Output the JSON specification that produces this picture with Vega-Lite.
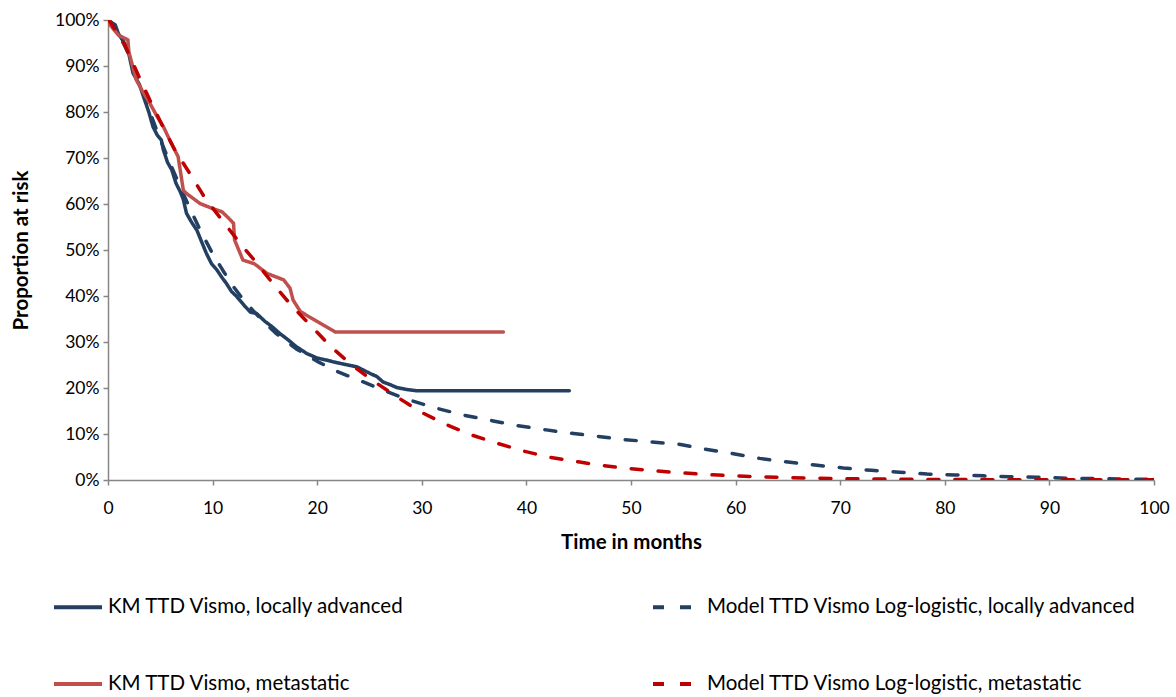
{
  "$schema": "https://vega.github.io/schema/vega-lite/v6.json",
  "autosize": "none",
  "width": 1046,
  "height": 460,
  "padding": {"left": 108, "top": 20, "right": 22, "bottom": 217},
  "background": "white",
  "config": {
    "view": {"stroke": null},
    "font": "Lato",
    "axis": {
      "grid": false,
      "domainColor": "#868686",
      "domainWidth": 1.5,
      "tickColor": "#868686",
      "tickWidth": 1.5,
      "tickSize": 5,
      "labelColor": "#000000",
      "labelFont": "Lato",
      "labelFontSize": 17.5,
      "titleFont": "Lato",
      "titleFontSize": 20.5,
      "titleFontWeight": "bold",
      "titleColor": "#000000"
    },
    "legend": {
      "labelFont": "Lato",
      "labelFontSize": 20.5,
      "labelColor": "#000000",
      "labelLimit": 0
    }
  },
  "data": {
    "values": [
      {"series": "KM TTD Vismo, locally advanced", "t": 0, "s": 1.0},
      {"series": "KM TTD Vismo, locally advanced", "t": 0.7, "s": 0.989},
      {"series": "KM TTD Vismo, locally advanced", "t": 1.0, "s": 0.97},
      {"series": "KM TTD Vismo, locally advanced", "t": 1.6, "s": 0.949},
      {"series": "KM TTD Vismo, locally advanced", "t": 2.0, "s": 0.925},
      {"series": "KM TTD Vismo, locally advanced", "t": 2.4, "s": 0.884},
      {"series": "KM TTD Vismo, locally advanced", "t": 3.0, "s": 0.86},
      {"series": "KM TTD Vismo, locally advanced", "t": 3.4, "s": 0.833},
      {"series": "KM TTD Vismo, locally advanced", "t": 3.9, "s": 0.8},
      {"series": "KM TTD Vismo, locally advanced", "t": 4.3, "s": 0.768},
      {"series": "KM TTD Vismo, locally advanced", "t": 4.7, "s": 0.75},
      {"series": "KM TTD Vismo, locally advanced", "t": 5.1, "s": 0.739},
      {"series": "KM TTD Vismo, locally advanced", "t": 5.3, "s": 0.717},
      {"series": "KM TTD Vismo, locally advanced", "t": 5.7, "s": 0.69},
      {"series": "KM TTD Vismo, locally advanced", "t": 6.1, "s": 0.674},
      {"series": "KM TTD Vismo, locally advanced", "t": 6.5, "s": 0.645},
      {"series": "KM TTD Vismo, locally advanced", "t": 6.9, "s": 0.627},
      {"series": "KM TTD Vismo, locally advanced", "t": 7.2, "s": 0.61},
      {"series": "KM TTD Vismo, locally advanced", "t": 7.5, "s": 0.58},
      {"series": "KM TTD Vismo, locally advanced", "t": 8.0, "s": 0.56},
      {"series": "KM TTD Vismo, locally advanced", "t": 8.5, "s": 0.543},
      {"series": "KM TTD Vismo, locally advanced", "t": 9.0, "s": 0.515},
      {"series": "KM TTD Vismo, locally advanced", "t": 9.4, "s": 0.493},
      {"series": "KM TTD Vismo, locally advanced", "t": 9.9, "s": 0.47},
      {"series": "KM TTD Vismo, locally advanced", "t": 10.4, "s": 0.457},
      {"series": "KM TTD Vismo, locally advanced", "t": 10.9, "s": 0.44},
      {"series": "KM TTD Vismo, locally advanced", "t": 11.3, "s": 0.428},
      {"series": "KM TTD Vismo, locally advanced", "t": 11.8, "s": 0.41},
      {"series": "KM TTD Vismo, locally advanced", "t": 12.3, "s": 0.399},
      {"series": "KM TTD Vismo, locally advanced", "t": 13.0, "s": 0.38},
      {"series": "KM TTD Vismo, locally advanced", "t": 13.6, "s": 0.365},
      {"series": "KM TTD Vismo, locally advanced", "t": 14.2, "s": 0.362},
      {"series": "KM TTD Vismo, locally advanced", "t": 15.0, "s": 0.345},
      {"series": "KM TTD Vismo, locally advanced", "t": 15.7, "s": 0.333},
      {"series": "KM TTD Vismo, locally advanced", "t": 16.4, "s": 0.319},
      {"series": "KM TTD Vismo, locally advanced", "t": 17.2, "s": 0.305},
      {"series": "KM TTD Vismo, locally advanced", "t": 18.0, "s": 0.29},
      {"series": "KM TTD Vismo, locally advanced", "t": 19.0, "s": 0.275},
      {"series": "KM TTD Vismo, locally advanced", "t": 20.0, "s": 0.265},
      {"series": "KM TTD Vismo, locally advanced", "t": 21.0, "s": 0.26},
      {"series": "KM TTD Vismo, locally advanced", "t": 21.5, "s": 0.257},
      {"series": "KM TTD Vismo, locally advanced", "t": 22.5, "s": 0.252},
      {"series": "KM TTD Vismo, locally advanced", "t": 23.8, "s": 0.246},
      {"series": "KM TTD Vismo, locally advanced", "t": 24.5, "s": 0.238},
      {"series": "KM TTD Vismo, locally advanced", "t": 25.2, "s": 0.23},
      {"series": "KM TTD Vismo, locally advanced", "t": 25.7, "s": 0.225},
      {"series": "KM TTD Vismo, locally advanced", "t": 26.3, "s": 0.213},
      {"series": "KM TTD Vismo, locally advanced", "t": 27.0, "s": 0.207},
      {"series": "KM TTD Vismo, locally advanced", "t": 27.6, "s": 0.201},
      {"series": "KM TTD Vismo, locally advanced", "t": 28.5, "s": 0.197},
      {"series": "KM TTD Vismo, locally advanced", "t": 29.5, "s": 0.194},
      {"series": "KM TTD Vismo, locally advanced", "t": 44.1, "s": 0.194},

      {"series": "Model TTD Vismo Log-logistic, locally advanced", "t": 0, "s": 1.0},
      {"series": "Model TTD Vismo Log-logistic, locally advanced", "t": 1, "s": 0.972},
      {"series": "Model TTD Vismo Log-logistic, locally advanced", "t": 2, "s": 0.925},
      {"series": "Model TTD Vismo Log-logistic, locally advanced", "t": 3, "s": 0.865},
      {"series": "Model TTD Vismo Log-logistic, locally advanced", "t": 4, "s": 0.8},
      {"series": "Model TTD Vismo Log-logistic, locally advanced", "t": 5, "s": 0.74},
      {"series": "Model TTD Vismo Log-logistic, locally advanced", "t": 6, "s": 0.685},
      {"series": "Model TTD Vismo Log-logistic, locally advanced", "t": 7, "s": 0.632},
      {"series": "Model TTD Vismo Log-logistic, locally advanced", "t": 8, "s": 0.582},
      {"series": "Model TTD Vismo Log-logistic, locally advanced", "t": 9, "s": 0.535},
      {"series": "Model TTD Vismo Log-logistic, locally advanced", "t": 10, "s": 0.492},
      {"series": "Model TTD Vismo Log-logistic, locally advanced", "t": 11, "s": 0.455},
      {"series": "Model TTD Vismo Log-logistic, locally advanced", "t": 12, "s": 0.42},
      {"series": "Model TTD Vismo Log-logistic, locally advanced", "t": 13, "s": 0.39},
      {"series": "Model TTD Vismo Log-logistic, locally advanced", "t": 14, "s": 0.365},
      {"series": "Model TTD Vismo Log-logistic, locally advanced", "t": 15, "s": 0.342},
      {"series": "Model TTD Vismo Log-logistic, locally advanced", "t": 16, "s": 0.32},
      {"series": "Model TTD Vismo Log-logistic, locally advanced", "t": 18, "s": 0.285},
      {"series": "Model TTD Vismo Log-logistic, locally advanced", "t": 20, "s": 0.258},
      {"series": "Model TTD Vismo Log-logistic, locally advanced", "t": 22, "s": 0.235},
      {"series": "Model TTD Vismo Log-logistic, locally advanced", "t": 24, "s": 0.217},
      {"series": "Model TTD Vismo Log-logistic, locally advanced", "t": 26, "s": 0.198},
      {"series": "Model TTD Vismo Log-logistic, locally advanced", "t": 28.5, "s": 0.176},
      {"series": "Model TTD Vismo Log-logistic, locally advanced", "t": 31.4, "s": 0.156},
      {"series": "Model TTD Vismo Log-logistic, locally advanced", "t": 34, "s": 0.141},
      {"series": "Model TTD Vismo Log-logistic, locally advanced", "t": 36.7, "s": 0.129},
      {"series": "Model TTD Vismo Log-logistic, locally advanced", "t": 39.2, "s": 0.118},
      {"series": "Model TTD Vismo Log-logistic, locally advanced", "t": 41.9, "s": 0.109},
      {"series": "Model TTD Vismo Log-logistic, locally advanced", "t": 44.5, "s": 0.101},
      {"series": "Model TTD Vismo Log-logistic, locally advanced", "t": 46.4, "s": 0.096},
      {"series": "Model TTD Vismo Log-logistic, locally advanced", "t": 49.3, "s": 0.088},
      {"series": "Model TTD Vismo Log-logistic, locally advanced", "t": 51.8, "s": 0.083},
      {"series": "Model TTD Vismo Log-logistic, locally advanced", "t": 54.5, "s": 0.078},
      {"series": "Model TTD Vismo Log-logistic, locally advanced", "t": 57.1, "s": 0.067},
      {"series": "Model TTD Vismo Log-logistic, locally advanced", "t": 59.8, "s": 0.057},
      {"series": "Model TTD Vismo Log-logistic, locally advanced", "t": 62.3, "s": 0.047},
      {"series": "Model TTD Vismo Log-logistic, locally advanced", "t": 65, "s": 0.039},
      {"series": "Model TTD Vismo Log-logistic, locally advanced", "t": 67.8, "s": 0.032},
      {"series": "Model TTD Vismo Log-logistic, locally advanced", "t": 70.3, "s": 0.026},
      {"series": "Model TTD Vismo Log-logistic, locally advanced", "t": 73, "s": 0.021},
      {"series": "Model TTD Vismo Log-logistic, locally advanced", "t": 75.7, "s": 0.017},
      {"series": "Model TTD Vismo Log-logistic, locally advanced", "t": 78.3, "s": 0.013},
      {"series": "Model TTD Vismo Log-logistic, locally advanced", "t": 81, "s": 0.011},
      {"series": "Model TTD Vismo Log-logistic, locally advanced", "t": 83.7, "s": 0.009},
      {"series": "Model TTD Vismo Log-logistic, locally advanced", "t": 86.2, "s": 0.007},
      {"series": "Model TTD Vismo Log-logistic, locally advanced", "t": 88.9, "s": 0.006},
      {"series": "Model TTD Vismo Log-logistic, locally advanced", "t": 91.6, "s": 0.004},
      {"series": "Model TTD Vismo Log-logistic, locally advanced", "t": 94.8, "s": 0.003},
      {"series": "Model TTD Vismo Log-logistic, locally advanced", "t": 97.7, "s": 0.002},
      {"series": "Model TTD Vismo Log-logistic, locally advanced", "t": 100, "s": 0.0015},

      {"series": "KM TTD Vismo, metastatic", "t": 0, "s": 1.0},
      {"series": "KM TTD Vismo, metastatic", "t": 0.2, "s": 0.989},
      {"series": "KM TTD Vismo, metastatic", "t": 1.0, "s": 0.967},
      {"series": "KM TTD Vismo, metastatic", "t": 1.9, "s": 0.957},
      {"series": "KM TTD Vismo, metastatic", "t": 2.0, "s": 0.93},
      {"series": "KM TTD Vismo, metastatic", "t": 2.7, "s": 0.87},
      {"series": "KM TTD Vismo, metastatic", "t": 3.3, "s": 0.845},
      {"series": "KM TTD Vismo, metastatic", "t": 4.0, "s": 0.819},
      {"series": "KM TTD Vismo, metastatic", "t": 4.7, "s": 0.79},
      {"series": "KM TTD Vismo, metastatic", "t": 5.3, "s": 0.768},
      {"series": "KM TTD Vismo, metastatic", "t": 5.9, "s": 0.739},
      {"series": "KM TTD Vismo, metastatic", "t": 6.7, "s": 0.703},
      {"series": "KM TTD Vismo, metastatic", "t": 7.0, "s": 0.66},
      {"series": "KM TTD Vismo, metastatic", "t": 7.2, "s": 0.63},
      {"series": "KM TTD Vismo, metastatic", "t": 7.5, "s": 0.623},
      {"series": "KM TTD Vismo, metastatic", "t": 8.8, "s": 0.601},
      {"series": "KM TTD Vismo, metastatic", "t": 10.0, "s": 0.59},
      {"series": "KM TTD Vismo, metastatic", "t": 10.9, "s": 0.583},
      {"series": "KM TTD Vismo, metastatic", "t": 11.5, "s": 0.57},
      {"series": "KM TTD Vismo, metastatic", "t": 12.0, "s": 0.558},
      {"series": "KM TTD Vismo, metastatic", "t": 12.1, "s": 0.522},
      {"series": "KM TTD Vismo, metastatic", "t": 12.9, "s": 0.478},
      {"series": "KM TTD Vismo, metastatic", "t": 14.0, "s": 0.47},
      {"series": "KM TTD Vismo, metastatic", "t": 15.2, "s": 0.449},
      {"series": "KM TTD Vismo, metastatic", "t": 16.8, "s": 0.435},
      {"series": "KM TTD Vismo, metastatic", "t": 17.4, "s": 0.417},
      {"series": "KM TTD Vismo, metastatic", "t": 17.7, "s": 0.391},
      {"series": "KM TTD Vismo, metastatic", "t": 18.4, "s": 0.366},
      {"series": "KM TTD Vismo, metastatic", "t": 21.7, "s": 0.322},
      {"series": "KM TTD Vismo, metastatic", "t": 37.8, "s": 0.322},

      {"series": "Model TTD Vismo Log-logistic, metastatic", "t": 0, "s": 1.0},
      {"series": "Model TTD Vismo Log-logistic, metastatic", "t": 0.2, "s": 0.996},
      {"series": "Model TTD Vismo Log-logistic, metastatic", "t": 1.6, "s": 0.946},
      {"series": "Model TTD Vismo Log-logistic, metastatic", "t": 2.9, "s": 0.88},
      {"series": "Model TTD Vismo Log-logistic, metastatic", "t": 4.0, "s": 0.826},
      {"series": "Model TTD Vismo Log-logistic, metastatic", "t": 5.1, "s": 0.775},
      {"series": "Model TTD Vismo Log-logistic, metastatic", "t": 6.4, "s": 0.717},
      {"series": "Model TTD Vismo Log-logistic, metastatic", "t": 7.8, "s": 0.667},
      {"series": "Model TTD Vismo Log-logistic, metastatic", "t": 9.3, "s": 0.612},
      {"series": "Model TTD Vismo Log-logistic, metastatic", "t": 10.9, "s": 0.565},
      {"series": "Model TTD Vismo Log-logistic, metastatic", "t": 12.5, "s": 0.518},
      {"series": "Model TTD Vismo Log-logistic, metastatic", "t": 14.2, "s": 0.472},
      {"series": "Model TTD Vismo Log-logistic, metastatic", "t": 15.8, "s": 0.426},
      {"series": "Model TTD Vismo Log-logistic, metastatic", "t": 17.7, "s": 0.375},
      {"series": "Model TTD Vismo Log-logistic, metastatic", "t": 19.3, "s": 0.338},
      {"series": "Model TTD Vismo Log-logistic, metastatic", "t": 21.2, "s": 0.292},
      {"series": "Model TTD Vismo Log-logistic, metastatic", "t": 23.1, "s": 0.254},
      {"series": "Model TTD Vismo Log-logistic, metastatic", "t": 25.0, "s": 0.221},
      {"series": "Model TTD Vismo Log-logistic, metastatic", "t": 27.6, "s": 0.181},
      {"series": "Model TTD Vismo Log-logistic, metastatic", "t": 29.8, "s": 0.149},
      {"series": "Model TTD Vismo Log-logistic, metastatic", "t": 32.1, "s": 0.123},
      {"series": "Model TTD Vismo Log-logistic, metastatic", "t": 34.6, "s": 0.099},
      {"series": "Model TTD Vismo Log-logistic, metastatic", "t": 37.2, "s": 0.08},
      {"series": "Model TTD Vismo Log-logistic, metastatic", "t": 39.7, "s": 0.063},
      {"series": "Model TTD Vismo Log-logistic, metastatic", "t": 42.3, "s": 0.049},
      {"series": "Model TTD Vismo Log-logistic, metastatic", "t": 45.1, "s": 0.039},
      {"series": "Model TTD Vismo Log-logistic, metastatic", "t": 46.4, "s": 0.034},
      {"series": "Model TTD Vismo Log-logistic, metastatic", "t": 49.3, "s": 0.026},
      {"series": "Model TTD Vismo Log-logistic, metastatic", "t": 51.8, "s": 0.021},
      {"series": "Model TTD Vismo Log-logistic, metastatic", "t": 54.5, "s": 0.016},
      {"series": "Model TTD Vismo Log-logistic, metastatic", "t": 57.1, "s": 0.012},
      {"series": "Model TTD Vismo Log-logistic, metastatic", "t": 59.8, "s": 0.009},
      {"series": "Model TTD Vismo Log-logistic, metastatic", "t": 62.3, "s": 0.007},
      {"series": "Model TTD Vismo Log-logistic, metastatic", "t": 65.2, "s": 0.005},
      {"series": "Model TTD Vismo Log-logistic, metastatic", "t": 67.8, "s": 0.004},
      {"series": "Model TTD Vismo Log-logistic, metastatic", "t": 70.3, "s": 0.003},
      {"series": "Model TTD Vismo Log-logistic, metastatic", "t": 75, "s": 0.002},
      {"series": "Model TTD Vismo Log-logistic, metastatic", "t": 80, "s": 0.001},
      {"series": "Model TTD Vismo Log-logistic, metastatic", "t": 90, "s": 0.0005},
      {"series": "Model TTD Vismo Log-logistic, metastatic", "t": 100, "s": 0.0003}
    ]
  },
  "mark": {"type": "line", "strokeWidth": 3.5, "strokeCap": "round", "strokeJoin": "round", "clip": true},
  "encoding": {
    "x": {
      "field": "t",
      "type": "quantitative",
      "title": "Time in months",
      "scale": {"domain": [0, 100], "nice": false},
      "axis": {"values": [0, 10, 20, 30, 40, 50, 60, 70, 80, 90, 100], "labelPadding": 14, "titlePadding": 16, "labelFlush": false}
    },
    "y": {
      "field": "s",
      "type": "quantitative",
      "title": "Proportion at risk",
      "scale": {"domain": [0, 1], "nice": false},
      "axis": {"values": [0, 0.1, 0.2, 0.3, 0.4, 0.5, 0.6, 0.7, 0.8, 0.9, 1], "format": ".0%", "labelPadding": 4, "titlePadding": 23, "labelFlush": false}
    },
    "color": {
      "field": "series",
      "type": "nominal",
      "sort": null,
      "scale": {
        "domain": ["KM TTD Vismo, locally advanced", "Model TTD Vismo Log-logistic, locally advanced", "KM TTD Vismo, metastatic", "Model TTD Vismo Log-logistic, metastatic"],
        "range": ["#233F61", "#233F61", "#C0504D", "#C00000"]
      },
      "legend": {
        "title": null,
        "orient": "none",
        "legendX": -56,
        "legendY": 561,
        "columns": 2,
        "columnPadding": 240,
        "rowPadding": 40,
        "symbolType": "stroke",
        "symbolSize": 2304,
        "symbolStrokeWidth": 4,
        "labelOffset": 4,
        "values": ["KM TTD Vismo, locally advanced", "KM TTD Vismo, metastatic", "Model TTD Vismo Log-logistic, locally advanced", "Model TTD Vismo Log-logistic, metastatic"]
      }
    },
    "strokeDash": {
      "field": "series",
      "type": "nominal",
      "sort": null,
      "scale": {
        "domain": ["KM TTD Vismo, locally advanced", "Model TTD Vismo Log-logistic, locally advanced", "KM TTD Vismo, metastatic", "Model TTD Vismo Log-logistic, metastatic"],
        "range": [[1, 0], [11, 16], [1, 0], [11, 16]]
      },
      "legend": {
        "title": null,
        "orient": "none",
        "legendX": -56,
        "legendY": 561,
        "columns": 2,
        "columnPadding": 240,
        "rowPadding": 40,
        "symbolType": "stroke",
        "symbolSize": 2304,
        "symbolStrokeWidth": 4,
        "labelOffset": 4,
        "values": ["KM TTD Vismo, locally advanced", "KM TTD Vismo, metastatic", "Model TTD Vismo Log-logistic, locally advanced", "Model TTD Vismo Log-logistic, metastatic"]
      }
    }
  }
}
